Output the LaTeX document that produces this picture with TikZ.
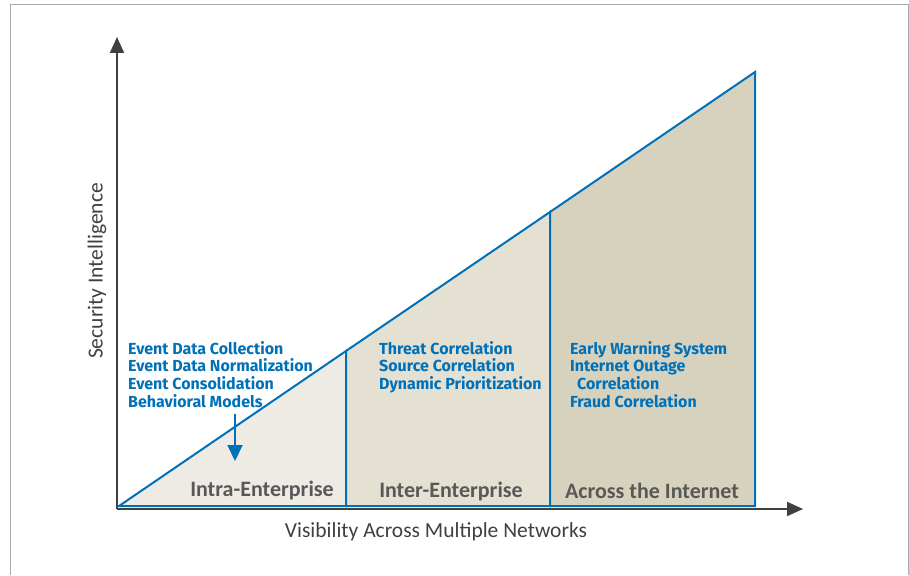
\documentclass[tikz,border=0pt]{standalone}
\usepackage{fontspec}
\setmainfont{Fira Sans}
\newfontfamily\condfont{Carlito}
\usetikzlibrary{arrows.meta}
\definecolor{cblue}{RGB}{0,112,184}
\definecolor{cgray}{RGB}{88,88,88}
\definecolor{caxis}{RGB}{64,64,64}
\definecolor{cfirst}{RGB}{238,235,228}
\definecolor{csecond}{RGB}{228,224,210}
\definecolor{cthird}{RGB}{215,210,189}
\definecolor{cframe}{RGB}{170,170,170}
\tikzset{axis/.style={draw=caxis, line width=2pt, -{Triangle[length=16pt,width=14pt]}},
region/.style={draw=cblue, line width=2pt, line join=miter},
itemlist/.style={anchor=north west, align=left, inner sep=0pt, text=cblue,
font=\fontsize{16}{17.7}\selectfont\bfseries},
zonelabel/.style={text=cgray, font=\condfont\fontsize{22}{22}\selectfont\bfseries},
axislabel/.style={text=caxis, font=\condfont\fontsize{21.5}{21.5}\selectfont}}

\begin{document}
\begin{tikzpicture}[x=1pt,y=-1pt]
\useasboundingbox (0,0) rectangle (909,575);
\draw[cframe, line width=1pt] (10,575) -- (10,4.5) -- (908,4.5) -- (908,575);

\coordinate (o) at (119,506);
\coordinate (s1) at (346,351);
\coordinate (b1) at (346,506);
\coordinate (s2) at (550,212);
\coordinate (b2) at (550,506);
\coordinate (top) at (755,72);
\coordinate (b3) at (755,506);

\filldraw[region, fill=cfirst] (o) -- (s1) -- (b1) -- cycle;
\filldraw[region, fill=csecond] (s1) -- (s2) -- (b2) -- (b1) -- cycle;
\filldraw[region, fill=cthird] (s2) -- (top) -- (b3) -- (b2) -- cycle;

\coordinate (origin) at (117,509);
\coordinate (yend) at (117,37);
\coordinate (xend) at (803,509);
\draw[axis] (origin) -- (yend);
\draw[axis] (origin) -- (xend);

\node[itemlist] (intralist) at (128,341) {Event Data Collection\\Event Data Normalization\\Event Consolidation\\Behavioral Models};
\node[itemlist] (interlist) at (379,341) {Threat Correlation\\Source Correlation\\Dynamic Prioritization};
\node[itemlist] (netlist) at (570,341) {Early Warning System\\Internet Outage\\\hspace{7pt}Correlation\\Fraud Correlation};

\coordinate (ptrstart) at (235,414);
\coordinate (ptrend) at (235,461);
\draw[cblue, line width=2pt, -{Triangle[length=16pt,width=15pt]}] (ptrstart) -- (ptrend);

\node[zonelabel] (intra) at (262,491) {Intra-Enterprise};
\node[zonelabel] (inter) at (451,492) {Inter-Enterprise};
\node[zonelabel] (net) at (652,491) {Across the Internet};

\node[axislabel] (xlabel) at (436,532) {Visibility Across Multiple Networks};
\node[axislabel, rotate=90] (ylabel) at (97,271) {Security Intelligence};
\end{tikzpicture}
\end{document}
